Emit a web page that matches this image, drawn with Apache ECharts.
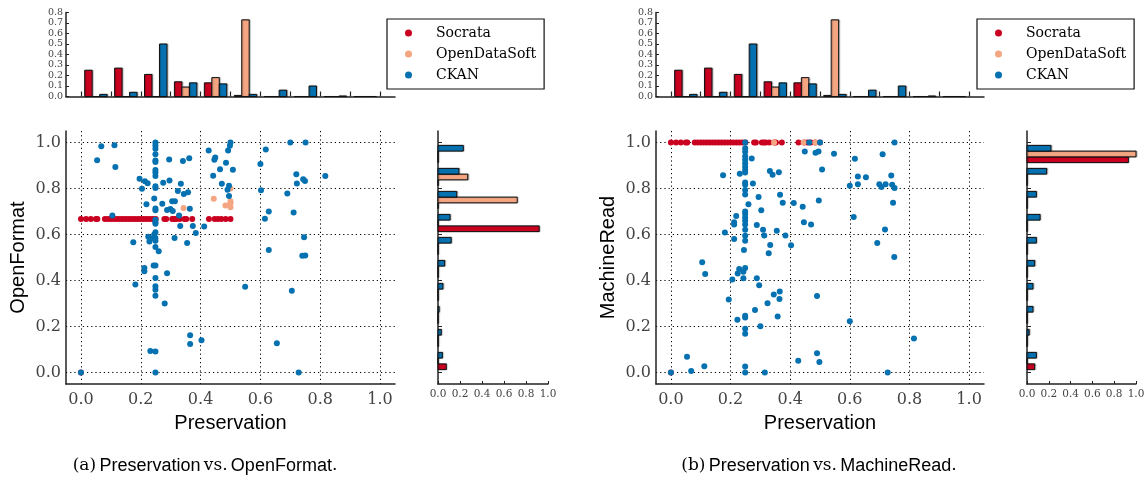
<!DOCTYPE html>
<html><head><meta charset="utf-8">
<script src="https://cdn.jsdelivr.net/npm/echarts@6/dist/echarts.min.js"></script>
<style>html,body{margin:0;padding:0;background:#fff}#c{width:1148px;height:489px}</style>
</head><body><div id="c"></div>
<script>
// ---------------- data ----------------
const sourceNames = ['Socrata', 'OpenDataSoft', 'CKAN'];
const binStarts = [0, 0.1, 0.2, 0.3, 0.4, 0.5, 0.6, 0.7, 0.8, 0.9];
const presTicks = [0, 0.1, 0.2, 0.3, 0.4, 0.5, 0.6, 0.7, 0.8, 0.9, 1.0];
const sideTicks = [0, 0.2, 0.4, 0.6, 0.8, 1.0];
const topHistTicks = [0, 0.1, 0.2, 0.3, 0.4, 0.5, 0.6, 0.7, 0.8];

// Preservation histogram (top, identical in both panels)
const presHistSocrata = [0.25, 0.27, 0.21, 0.14, 0.13, 0.01, 0, 0, 0, 0];
const presHistODS     = [0, 0, 0, 0.09, 0.18, 0.73, 0, 0, 0, 0];
const presHistCKAN    = [0.02, 0.04, 0.50, 0.13, 0.12, 0.02, 0.06, 0.10, 0.005, 0];

// OpenFormat histogram (side, panel a)
const openHistSocrata = [0.075, 0, 0, 0, 0, 0, 0.92, 0, 0, 0];
const openHistODS     = [0, 0, 0, 0, 0, 0, 0, 0.72, 0.27, 0];
const openHistCKAN    = [0.04, 0.03, 0.01, 0.045, 0.06, 0.12, 0.11, 0.17, 0.19, 0.23];

// MachineRead histogram (side, panel b)
const machHistSocrata = [0.07, 0, 0, 0, 0, 0, 0, 0, 0, 0.93];
const machHistODS     = [0, 0, 0, 0, 0, 0, 0, 0, 0, 1.0];
const machHistCKAN    = [0.086, 0.02, 0.055, 0.055, 0.07, 0.086, 0.12, 0.086, 0.18, 0.22];

// Scatter, panel a: [Preservation, OpenFormat]
const socrataA = [[0,0],[0,0.667],[0.017,0.667],[0.033,0.667],[0.05,0.667],[0.055,0.667],[0.08,0.667],[0.09,0.667],[0.1,0.667],[0.11,0.667],[0.12,0.667],[0.13,0.667],[0.14,0.667],[0.15,0.667],[0.16,0.667],[0.17,0.667],[0.18,0.667],[0.19,0.667],[0.2,0.667],[0.21,0.667],[0.22,0.667],[0.23,0.667],[0.24,0.667],[0.25,0.667],[0.279,0.667],[0.285,0.667],[0.305,0.667],[0.312,0.667],[0.318,0.667],[0.33,0.667],[0.346,0.667],[0.352,0.667],[0.372,0.667],[0.428,0.667],[0.447,0.667],[0.458,0.667],[0.469,0.667],[0.484,0.667],[0.5,0.667]];
const odsA = [[0.343,0.715],[0.444,0.755],[0.483,0.726],[0.5,0.745],[0.5,0.736],[0.5,0.718],[0.5,0.80]];
const ckanA = [[0,0],[0.054,0.923],[0.068,0.984],[0.112,0.988],[0.115,0.894],[0.105,0.683],
 [0.175,0.566],[0.182,0.383],[0.196,0.842],[0.204,0.799],[0.214,0.831],[0.223,0.823],[0.219,0.732],
 [0.212,0.454],[0.212,0.440],[0.225,0.590],[0.229,0.570],[0.242,0.585],[0.232,0.094],
 [0.249,1.0],[0.249,0.987],[0.249,0.973],[0.249,0.949],[0.249,0.922],[0.249,0.915],[0.249,0.88],[0.249,0.87],[0.249,0.854],[0.249,0.81],[0.249,0.802],[0.245,0.757],[0.249,0.713],[0.249,0.705],[0.249,0.664],[0.249,0.653],[0.249,0.647],[0.249,0.61],[0.249,0.585],[0.249,0.573],[0.249,0.546],[0.249,0.465],[0.249,0.411],[0.249,0.375],[0.249,0.36],[0.249,0.334],[0.249,0.091],[0.249,0.0],
 [0.243,0.465],[0.245,0.6],[0.26,0.527],
 [0.272,0.734],[0.275,0.825],[0.280,0.300],[0.288,0.706],[0.288,0.431],[0.295,0.926],[0.296,0.835],[0.299,0.711],[0.305,0.745],[0.314,0.745],[0.307,0.702],[0.313,0.585],
 [0.324,0.789],[0.334,0.821],[0.328,0.683],[0.332,0.637],[0.341,0.920],[0.344,0.776],[0.355,0.563],[0.358,0.784],[0.362,0.931],[0.364,0.712],[0.374,0.637],[0.384,0.606],[0.412,0.635],
 [0.365,0.162],[0.365,0.124],[0.403,0.140],
 [0.427,0.965],[0.442,0.855],[0.446,0.925],[0.449,0.935],[0.465,0.884],[0.471,0.821],[0.485,0.912],[0.49,0.795],[0.492,0.965],[0.495,0.812],[0.495,0.767],[0.498,0.986],[0.5,1.0],[0.508,0.881],
 [0.549,0.373],[0.6,0.907],[0.602,0.792],[0.615,0.669],[0.618,0.97],[0.628,0.70],[0.628,0.533],[0.655,0.127],
 [0.69,0.778],[0.70,1.0],[0.705,0.355],[0.711,0.696],[0.72,0.862],[0.722,0.822],[0.728,0.0],[0.74,0.508],[0.743,0.84],[0.746,0.588],[0.749,0.833],[0.75,0.509],[0.751,1.0],[0.817,0.854]];

// Scatter, panel b: [Preservation, MachineRead]
const socrataB = [[0,0],[0,1],[0.017,1],[0.033,1],[0.05,1],[0.055,1],[0.08,1],[0.09,1],[0.1,1],[0.11,1],[0.12,1],[0.13,1],[0.14,1],[0.15,1],[0.16,1],[0.17,1],[0.18,1],[0.19,1],[0.2,1],[0.21,1],[0.22,1],[0.23,1],[0.24,1],[0.25,1],[0.279,1],[0.285,1],[0.305,1],[0.312,1],[0.318,1],[0.33,1],[0.346,1],[0.352,1],[0.372,1],[0.428,1],[0.447,1],[0.458,1],[0.469,1],[0.484,1],[0.5,1]];
const odsB = [[0.346,1.0],[0.445,1.0],[0.484,1.0],[0.5,1.0]];
const ckanB = [[0,0],[0.054,0.069],[0.068,0.007],[0.112,0.027],[0.105,0.479],[0.115,0.428],
 [0.175,0.858],[0.181,0.609],[0.194,0.317],[0.206,0.404],[0.212,0.653],[0.212,0.643],[0.212,0.58],[0.219,0.68],[0.223,0.229],[0.224,0.43],[0.229,0.45],[0.231,0.864],
 [0.243,0.438],[0.243,0.41],[0.245,0.533],
 [0.249,1.0],[0.249,0.975],[0.249,0.96],[0.249,0.94],[0.249,0.925],[0.249,0.91],[0.249,0.895],[0.249,0.88],[0.249,0.87],[0.249,0.826],[0.249,0.816],[0.249,0.794],[0.249,0.774],[0.249,0.70],[0.249,0.689],[0.249,0.674],[0.249,0.66],[0.249,0.643],[0.249,0.621],[0.249,0.595],[0.249,0.573],[0.249,0.454],[0.249,0.247],[0.249,0.239],[0.249,0.19],[0.249,0.168],[0.249,0.026],[0.249,0.0],
 [0.26,0.731],[0.271,0.93],[0.275,0.822],[0.282,0.272],[0.288,0.641],[0.288,0.41],[0.294,0.763],[0.296,0.379],[0.3,0.201],[0.303,0.705],[0.309,0.621],[0.313,0.596],[0.315,0.0],
 [0.324,0.301],[0.328,0.518],[0.332,0.876],[0.333,0.554],[0.341,0.86],[0.345,0.339],[0.355,0.616],[0.358,0.243],[0.362,0.871],[0.364,0.32],[0.365,0.352],[0.366,0.773],[0.375,0.738],[0.384,0.596],[0.403,0.553],[0.412,0.737],
 [0.427,0.051],[0.442,0.721],[0.446,0.653],[0.449,0.961],[0.464,1.0],[0.47,0.644],[0.485,0.955],[0.49,0.333],[0.49,0.084],[0.495,0.961],[0.496,0.748],[0.498,0.046],[0.5,1.0],[0.507,0.883],
 [0.547,0.951],[0.6,0.812],[0.6,0.223],[0.613,0.676],[0.617,0.929],[0.627,0.852],[0.627,0.819],[0.654,0.849],[0.692,0.563],[0.699,0.818],[0.706,0.806],[0.71,0.949],[0.718,0.622],[0.72,0.819],[0.727,0.0],[0.739,0.857],[0.742,0.816],[0.745,0.738],[0.749,0.502],[0.75,0.802],[0.75,1.0],[0.815,0.148]];

// ---------------- styling / layout ----------------
const COLORS = {Socrata: '#ca0020', OpenDataSoft: '#f4a582', CKAN: '#0571b0'};
const SERIF = 'DejaVu Serif';
const SANS = 'Liberation Sans';
const BAR_OFF = 0.0125, BAR_W = 0.025;
const AXIS_LINE = {show: true, onZero: false, lineStyle: {color: '#222', width: 1.5}};

function fmt02(v) {
  return Math.abs(v * 5 - Math.round(v * 5)) < 1e-6 ? v.toFixed(1) : '';
}

function scatterX(grid, name) {
  return {gridIndex: grid, type: 'value', min: -0.05, max: 1.05, minInterval: 0.2, maxInterval: 0.2,
    name: name, nameLocation: 'middle', nameGap: 29,
    nameTextStyle: {fontFamily: SANS, fontSize: 20, color: '#000'},
    axisLine: AXIS_LINE, axisTick: {show: false},
    axisLabel: {fontFamily: SERIF, fontSize: 16, color: '#444', margin: 8, formatter: fmt02},
    splitLine: {show: true, showMinLine: false, showMaxLine: false, lineStyle: {color: '#000', type: [1.2, 3], width: 1}}
  };
}
function scatterY(grid, name) {
  return {gridIndex: grid, type: 'value', min: -0.05, max: 1.05, minInterval: 0.2, maxInterval: 0.2,
    name: name, nameLocation: 'middle', nameGap: 38,
    nameTextStyle: {fontFamily: SANS, fontSize: 20, color: '#000'},
    axisLine: AXIS_LINE, axisTick: {show: false},
    axisLabel: {fontFamily: SERIF, fontSize: 16, color: '#444', margin: 5, formatter: fmt02},
    splitLine: {show: true, showMinLine: false, showMaxLine: false, lineStyle: {color: '#000', type: [1.2, 3], width: 1}}
  };
}
function topX(grid) {
  return {gridIndex: grid, type: 'value', min: -0.05, max: 1.05,
    axisLine: AXIS_LINE, axisLabel: {show: false}, splitLine: {show: false},
    axisTick: {show: true, inside: true, length: 5, customValues: presTicks, lineStyle: {color: '#222', width: 1.2}}
  };
}
function topY(grid) {
  return {gridIndex: grid, type: 'value', min: 0, max: 0.8, interval: 0.1,
    axisLine: AXIS_LINE, splitLine: {show: false},
    axisTick: {show: true, inside: true, length: 3, lineStyle: {color: '#222'}},
    axisLabel: {fontFamily: SERIF, fontSize: 9.5, lineHeight: 9, color: '#444', margin: 3,
      customValues: topHistTicks, showMinLabel: true, showMaxLabel: true, hideOverlap: false,
      formatter: v => v.toFixed(1)}
  };
}
function sideX(grid) {
  return {gridIndex: grid, type: 'value', min: 0, max: 1, interval: 0.2,
    axisLine: AXIS_LINE, splitLine: {show: false},
    axisTick: {show: true, inside: true, length: 3, lineStyle: {color: '#222'}},
    axisLabel: {fontFamily: SERIF, fontSize: 10.5, color: '#444', margin: 5,
      showMinLabel: true, showMaxLabel: true, formatter: v => v.toFixed(1)}
  };
}
function sideY(grid) {
  return {gridIndex: grid, type: 'value', min: -0.05, max: 1.05,
    axisLine: AXIS_LINE, splitLine: {show: false}, axisLabel: {show: false},
    axisTick: {show: true, inside: true, length: 4, customValues: sideTicks, lineStyle: {color: '#222'}}
  };
}

function barStyle(name) {
  return {fill: COLORS[name], stroke: '#111', lineWidth: 1,
          shadowColor: 'rgba(0,0,0,0.25)', shadowBlur: 1, shadowOffsetX: 1, shadowOffsetY: 0};
}
function topHist(name, values, k, axisIdx) {
  return {type: 'custom', name: name + ' (hist)', xAxisIndex: axisIdx, yAxisIndex: axisIdx, silent: true,
    data: binStarts.map((b, i) => [b, values[i]]),
    renderItem(params, api) {
      const b = api.value(0), v = api.value(1);
      const p0 = api.coord([b + BAR_OFF + k * BAR_W, 0]);
      const p1 = api.coord([b + BAR_OFF + (k + 1) * BAR_W, v]);
      return {type: 'rect', shape: {x: p0[0], y: p1[1], width: p1[0] - p0[0], height: p0[1] - p1[1]}, style: barStyle(name)};
    }
  };
}
function sideHist(name, values, k, axisIdx) {
  return {type: 'custom', name: name + ' (hist)', xAxisIndex: axisIdx, yAxisIndex: axisIdx, silent: true,
    data: binStarts.map((b, i) => [values[i], b]),
    renderItem(params, api) {
      const v = api.value(0), b = api.value(1);
      const p0 = api.coord([0, b + BAR_OFF + k * BAR_W]);
      const p1 = api.coord([v, b + BAR_OFF + (k + 1) * BAR_W]);
      return {type: 'rect', shape: {x: p0[0], y: p1[1], width: p1[0] - p0[0], height: p0[1] - p1[1]}, style: barStyle(name)};
    }
  };
}
function scatter(name, data, axisIdx) {
  return {type: 'scatter', name: name, xAxisIndex: axisIdx, yAxisIndex: axisIdx, data: data,
    symbol: 'circle', symbolSize: 6, itemStyle: {color: COLORS[name], opacity: 1}, silent: true};
}
function legend(left) {
  return {show: true, data: sourceNames, orient: 'vertical', left: left, top: 19,
    icon: 'circle', itemWidth: 7, itemHeight: 7, itemGap: 7,
    padding: [7, 8, 7, 18], borderColor: '#111', borderWidth: 1.2, borderRadius: 0,
    backgroundColor: '#fff', selectedMode: false,
    textStyle: {fontFamily: SERIF, fontSize: 14, color: '#000', lineHeight: 14, padding: [0, 0, 0, 19]}};
}

const gridBase = {outerBoundsMode: 'none', containLabel: false};
const captionRich = {s: {fontFamily: SERIF, fontSize: 17, color: '#000'}, ss: {fontFamily: SANS, fontSize: 18, color: '#000'}};
const option = {
  animation: false,
  backgroundColor: '#fff',
  grid: [
    Object.assign({left: 66, top: 131, width: 329, height: 253}, gridBase),   // a scatter
    Object.assign({left: 66, top: 12.5, width: 329, height: 84}, gridBase),   // a top hist
    Object.assign({left: 438, top: 131, width: 110, height: 253}, gridBase),  // a side hist
    Object.assign({left: 656, top: 131, width: 328, height: 253}, gridBase),  // b scatter
    Object.assign({left: 656, top: 12.5, width: 328, height: 84}, gridBase),  // b top hist
    Object.assign({left: 1027, top: 131, width: 109, height: 253}, gridBase)  // b side hist
  ],
  xAxis: [scatterX(0, 'Preservation'), topX(1), sideX(2), scatterX(3, 'Preservation'), topX(4), sideX(5)],
  yAxis: [scatterY(0, 'OpenFormat'), topY(1), sideY(2), scatterY(3, 'MachineRead'), topY(4), sideY(5)],
  legend: [legend(387), legend(977)],
  series: [
    scatter('Socrata', socrataA, 0), scatter('OpenDataSoft', odsA, 0), scatter('CKAN', ckanA, 0),
    scatter('Socrata', socrataB, 3), scatter('OpenDataSoft', odsB, 3), scatter('CKAN', ckanB, 3),
    topHist('Socrata', presHistSocrata, 0, 1), topHist('OpenDataSoft', presHistODS, 1, 1), topHist('CKAN', presHistCKAN, 2, 1),
    topHist('Socrata', presHistSocrata, 0, 4), topHist('OpenDataSoft', presHistODS, 1, 4), topHist('CKAN', presHistCKAN, 2, 4),
    sideHist('Socrata', openHistSocrata, 0, 2), sideHist('OpenDataSoft', openHistODS, 1, 2), sideHist('CKAN', openHistCKAN, 2, 2),
    sideHist('Socrata', machHistSocrata, 0, 5), sideHist('OpenDataSoft', machHistODS, 1, 5), sideHist('CKAN', machHistCKAN, 2, 5)
  ],
  graphic: [
    {type: 'text', x: 205, y: 466, silent: true, style: {
      text: '{s|(a)} {ss|Preservation} {s|vs.} {ss|OpenFormat}{s|.}',
      align: 'center', verticalAlign: 'middle', rich: captionRich}},
    {type: 'text', x: 819, y: 466, silent: true, style: {
      text: '{s|(b)} {ss|Preservation} {s|vs.} {ss|MachineRead}{s|.}',
      align: 'center', verticalAlign: 'middle', rich: captionRich}}
  ]
};
const chart = echarts.init(document.getElementById('c'), null, {renderer: 'canvas', width: 1148, height: 489});
chart.setOption(option);
</script>
</body></html>
